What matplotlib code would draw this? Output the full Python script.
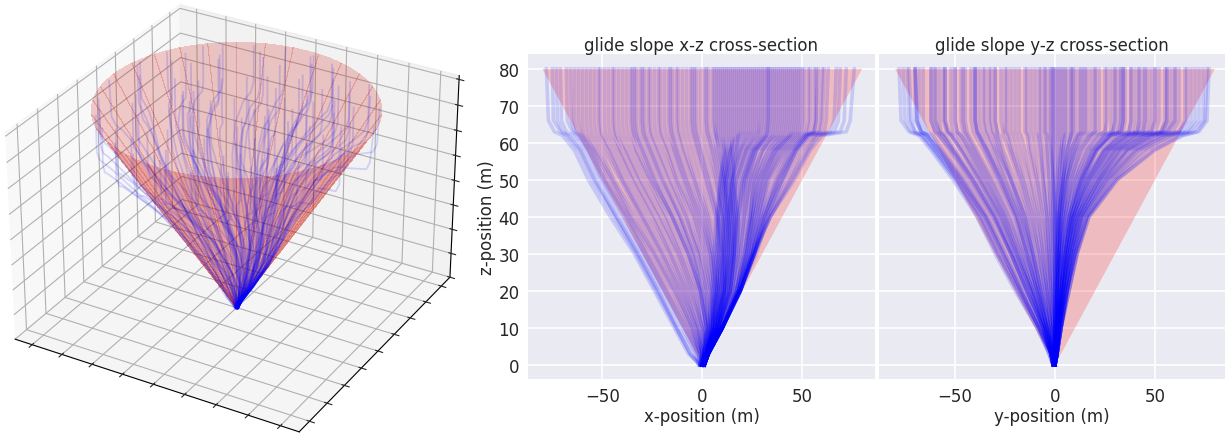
import matplotlib
matplotlib.use("Agg")
import matplotlib.pyplot as plt
import numpy as np

z_levels = [80, 66, 63, 62, 58, 50, 40, 30, 20, 10, 3, 0]
cone_top_radius = 80
cone_height = 80

x_paths = [
 [-78,-77,-74,-70,-64,-57,-46,-34,-24,-14,-7,-1],
 [-75,-74.5,-71,-68,-62,-55,-44,-33,-23,-13,-6,-1.5],
 [-71,-70.5,-68,-65,-60,-53,-43,-32,-22,-12,-4,-1],
 [-68,-67.5,-65,-63,-58,-51,-41,-30,-20,-10,-3,-2],
 [-66,-65.5,-64,-62,-57,-50,-39,-29,-19,-9,-2,-1],
 [-62,-62,-61,-60,-55,-48,-37,-27,-17,-7,-1,0],
 [-60,-60,-59.5,-59,-54,-46,-36,-25,-15,-6,-1,-1],
 [-56,-56,-55.5,-55,-51,-44,-33,-23,-13,-5,-1,0],
 [-54,-54,-53.5,-53,-49,-41,-31,-21,-12,-4,0,-1],
 [-51,-51,-50.5,-50,-46,-39,-29,-19,-10,-3,0,0],
 [-47,-47,-46.5,-46,-42,-35,-25,-16,-8,-2,0,-1],
 [-45,-45,-44.5,-44,-41,-34,-24,-15,-7,-1,0,0],
 [-42,-42,-41.5,-41,-38,-31,-21,-12,-5,0,1,0],
 [-38,-38,-37.5,-37,-34,-27,-18,-10,-3,1,1,-1],
 [-36,-36,-35.5,-35,-33,-26,-16,-8,-2,1,1,0],
 [-33,-33,-32.5,-32,-29,-23,-14,-6,-1,2,1,0],
 [-29,-29,-28.5,-28,-25,-19,-11,-4,1,3,1,0],
 [-27,-27,-26.5,-26,-23,-17,-9,-2,2,3,1,1],
 [-24,-24,-23.5,-23,-20,-14,-7,-1,3,4,2,0],
 [-21,-21,-20.5,-20,-17,-12,-4,1,4,4,2,0],
 [-17,-17,-16.5,-16,-14,-9,-2,3,5,5,2,1],
 [-15,-15,-14.5,-14,-12,-7,0,4,6,5,2,0],
 [-12,-12,-11.5,-11,-9,-4,2,5,7,6,2,0],
 [-8,-8,-7.5,-7,-5,-1,4,7,8,6,2,1],
 [-6,-6,-5.5,-5,-3,1,6,8,9,7,2,0],
 [-3,-3,-2.5,-2,0,4,8,10,10,7,2,0],
 [1,1,1.5,2,4,7,10,11,11,7,2,1],
 [3,3,3.5,4,6,9,12,13,12,8,2,0],
 [6,6,6.5,7,8,11,14,15,13,8,2,0],
 [9,9,9,9,11,13,16,16,14,8,3,1],
 [13,13,13,13,14,15,18,18,15,8,3,0],
 [15,15,15,15,15,16,17,16,14,8,3,1],
 [18,18,18,18,17,15,14,13,11,7,3,0],
 [22,22,22,21,18,14,12,11,9,6,2,1],
 [24,24,24,23,19,15,13,12,10,6,2,0],
 [27,27,27,26,22,17,15,14,11,6,2,1],
 [31,31,30.5,30,25,20,17,15,12,7,2,0],
 [33,33,32.5,32,27,22,19,17,14,8,3,1],
 [36,36,35.5,35,30,24,21,19,16,9,3,0],
 [40,40,39.5,39,33,26,24,21,17,9,3,1],
 [42,42,41.5,41,35,28,25,22,17,10,3,0],
 [45,45,44.5,44,37,30,26,23,18,10,3,1],
 [49,49,48.5,47,40,32,28,24,18,10,3,1],
 [51,51,50.5,49,42,34,29,25,18,10,3,0],
 [54,54,53,51,44,37,30,25,19,10,3,1],
 [58,57,56,52,46,39,31,26,19,10,3,1],
 [60,59,58,53,47,40,32,26,19,10,3,0],
 [63,62,61,54,48,41,33,27,19,10,3,1],
 [67,66,64,56,50,43,33,26,19,10,3,1],
 [69,68,66,57,52,44,34,26,19,10,3,1],
 [72,71,69,58,53,45,34,26,19,10,3,1],
 [76,74,72,60,54,46,34,25,19,10,3,1],
 [-73,-72.5,-70,-67,-61,-54,-43,-32,-22,-13,-6,-1],
 [-64,-64,-63,-61,-56,-49,-38,-28,-18,-8,-2,-1],
 [-58,-58,-57.5,-57,-53,-45,-35,-24,-14,-5,-1,0],
 [-52,-52,-51.5,-51,-47,-40,-30,-20,-11,-3,0,-1],
 [-49,-49,-48.5,-48,-44,-37,-27,-17,-9,-2,0,0],
 [-44,-44,-43.5,-43,-39,-32,-22,-13,-6,0,0,-1],
 [-40,-40,-39.5,-39,-36,-29,-19,-11,-4,0,1,0],
 [-34,-34,-33.5,-33,-30,-24,-15,-7,-1,2,1,0],
 [-31,-31,-30.5,-30,-27,-21,-12,-5,0,2,1,1],
 [-26,-26,-25.5,-25,-22,-16,-8,-2,2,3,1,0],
 [-22,-22,-21.5,-21,-18,-13,-5,0,4,4,2,0],
 [-19,-19,-18.5,-18,-15,-10,-3,2,5,5,2,1],
 [-13,-13,-12.5,-12,-10,-5,1,5,7,5,2,0],
 [-10,-10,-9.5,-9,-7,-3,3,6,8,6,2,0],
 [-4,-4,-3.5,-3,-1,3,8,10,10,7,2,1],
 [-1,-1,-0.5,0,2,6,10,11,11,7,2,0],
 [2,2,2.5,3,5,8,11,12,11,8,3,1],
 [5,5,5.5,6,7,10,13,14,12,8,3,0],
 [8,8,8,8,10,12,15,15,13,8,3,1],
 [11,11,11,11,12,14,16,16,14,8,3,0],
 [12,12,12,12,12,9,7,6,5,3,1,0],
 [14,14,14,14,13,10,8,7,6,4,2,1],
 [16,16,16,16,14,11,9,8,7,4,2,0],
 [17,17,17,17,14,11,10,9,7,5,2,1],
 [20,20,20,19,16,12,11,10,8,5,2,1],
 [21,21,21,20,17,13,12,11,9,6,2,0],
 [23,23,23,22,19,15,13,12,10,6,2,1],
 [25,25,25,24,20,16,14,13,11,7,3,1],
 [26,26,26,25,21,17,15,14,12,7,3,0],
 [28,28,28,27,22,18,16,15,13,8,3,1],
 [29,29,28.5,28,23,19,17,16,14,8,3,1],
 [30,30,29.5,29,24,20,18,17,15,9,3,1],
 [32,32,31.5,31,25,21,20,18,15,9,3,1],
 [34,34,33.5,33,26,22,21,19,16,9,3,0],
 [35,35,34.5,34,27,23,22,20,17,10,3,1],
 [37,37,36.5,36,28,24,23,21,17,10,3,1],
 [38,38,37.5,37,30,25,24,21,17,10,3,1],
 [39,39,38.5,38,31,26,24,22,18,10,3,1],
 [41,41,40.5,40,33,27,25,22,18,10,3,1],
 [43,43,42.5,42,35,28,25,23,18,10,3,1],
 [44,44,43.5,43,36,29,26,24,18,10,3,0],
 [47,47,46.5,45,38,31,27,24,19,10,3,1],
 [48,48,47.5,46,39,32,28,25,19,10,3,1],
 [50,50,49.5,48,41,33,29,25,19,10,3,1],
 [53,53,52,50,43,36,30,25,19,10,3,1],
 [56,56,55,51,45,38,31,26,19,10,3,1],
 [57,57,56,52,46,38,31,26,19,10,3,1],
 [61,60,59,53,47,40,32,26,19,10,3,1],
 [-35,-35,-34.5,-34,-31,-25,-15,-7,-1,2,1,0],
 [-16,-16,-15.5,-15,-13,-8,-1,4,6,5,2,0],
 [10,10,10,10,11,9,8,8,7,5,2,0],
 [19,19,19,18,15,12,11,10,8,5,2,1],
 [46,46,45.5,44,37,30,27,23,18,10,3,1],
 [-5,-5,-4.5,-4,-2,2,7,9,9,6,2,0],
 [7,7,7,7,9,11,13,13,11,7,2,1],
 [-30,-30,-29.5,-29,-26,-20,-11,-4,0,3,1,0],
 [33,33,32.5,32,26,21,18,16,13,8,3,1],
]

y_paths = [
 [-8,-8,-8,-8,-7,-6,-4,-3,-2,-1,0,0],
 [20,20,20,18,13,8,5,3,2,1,0,0],
 [-30,-30,-29,-29,-27,-22,-15,-11,-7,-3,-1,0],
 [38,38,37,31,24,15,9,6,4,2,0,0],
 [5,5,5,5,4,3,2,2,1,1,0,0],
 [-47,-47,-46,-45,-41,-33,-24,-17,-11,-5,-1,-1],
 [30,30,29,25,19,12,7,5,3,1,0,0],
 [-15,-15,-15,-14,-13,-10,-7,-5,-3,-1,0,0],
 [55,55,53,44,32,22,12,8,5,2,1,0],
 [-58,-58,-57,-55,-50,-40,-29,-21,-13,-6,-2,-1],
 [12,12,12,11,8,5,3,2,1,1,0,0],
 [62,62,59,50,37,25,14,9,6,3,1,0],
 [-35,-35,-34,-33,-30,-24,-17,-12,-8,-4,-1,0],
 [45,45,44,37,27,18,10,7,4,2,1,0],
 [-68,-68,-66,-63,-57,-46,-34,-25,-16,-7,-2,-1],
 [-3,-3,-3,-3,-2,-1,-1,0,0,0,0,0],
 [70,70,66,56,42,28,16,10,6,3,1,0],
 [-50,-50,-49,-47,-43,-35,-25,-18,-11,-5,-2,-1],
 [25,25,25,21,16,10,6,4,3,1,0,0],
 [-74,-73,-70,-66,-60,-49,-37,-28,-18,-8,-3,-1],
 [60,60,57,48,36,24,13,9,6,3,1,0],
 [-22,-22,-22,-21,-19,-15,-10,-7,-4,-2,-1,0],
 [77,76,72,64,50,31,17,11,7,3,1,0],
 [-62,-62,-60,-58,-53,-43,-31,-22,-14,-6,-2,-1],
 [8,8,8,8,6,4,2,1,1,0,0,0],
 [40,40,39,33,25,16,9,6,4,2,0,0],
 [-78,-77,-73,-68,-62,-51,-39,-30,-20,-9,-3,-1],
 [-40,-40,-39,-38,-34,-27,-19,-14,-9,-4,-1,0],
 [74,74,69,60,46,30,16,11,7,3,1,0],
 [-10,-10,-10,-9,-8,-6,-4,-3,-2,-1,0,0],
 [52,52,50,42,31,21,11,8,5,2,1,0],
 [-70,-69,-67,-64,-58,-47,-35,-26,-17,-8,-2,-1],
 [22,22,22,19,14,9,5,3,2,1,0,0],
 [-52,-52,-51,-49,-44,-36,-26,-19,-12,-5,-2,-1],
 [68,68,64,55,41,27,15,10,6,3,1,0],
 [-27,-27,-26,-26,-23,-18,-13,-9,-6,-3,-1,0],
 [42,42,41,35,26,17,9,6,4,2,1,0],
 [-66,-66,-64,-61,-56,-45,-33,-24,-15,-7,-2,-1],
 [3,3,3,3,3,2,1,1,1,0,0,0],
 [58,58,55,47,35,23,13,9,5,3,1,0],
 [-45,-45,-44,-43,-39,-31,-22,-16,-10,-5,-1,0],
 [28,28,28,24,18,11,7,4,3,1,0,0],
 [-60,-60,-58,-56,-51,-41,-30,-22,-14,-6,-2,-1],
 [60,60,56,49,36,24,13,8,5,2,1,0],
 [-18,-18,-18,-17,-15,-12,-8,-6,-4,-2,0,0],
 [48,48,46,39,29,19,11,7,4,2,1,0],
 [-38,-38,-37,-36,-33,-26,-18,-13,-8,-4,-1,0],
 [15,15,15,13,10,6,4,2,2,1,0,0],
 [-32,-32,-31,-30,-28,-22,-15,-11,-7,-3,-1,0],
 [38,38,37,32,24,15,9,6,4,2,0,0],
 [-12,-12,-12,-11,-10,-8,-5,-4,-2,-1,0,0],
 [18,18,18,16,11,7,4,3,2,1,0,0],
 [14,14,14,12,9,6,3,2,2,1,0,0],
 [-40,-40,-39,-38,-35,-28,-20,-14,-9,-4,-1,0],
 [42,42,41,34,25,16,9,6,4,2,1,0],
 [-25,-25,-25,-24,-22,-17,-12,-8,-5,-2,-1,0],
 [33,33,32,27,21,13,8,5,3,1,0,0],
 [-55,-55,-54,-52,-47,-38,-27,-20,-12,-6,-2,-1],
 [50,50,48,40,30,20,11,7,5,2,1,0],
 [16,16,16,14,10,6,4,3,2,1,0,0],
 [-60,-60,-58,-56,-51,-41,-30,-22,-14,-6,-2,-1],
 [-7,-7,-7,-7,-6,-5,-3,-2,-1,-1,0,0],
 [65,65,62,52,39,26,14,10,6,3,1,0],
 [-42,-42,-41,-40,-36,-29,-20,-15,-9,-4,-1,0],
 [34,34,33,28,21,14,8,5,3,2,0,0],
 [-70,-69,-67,-64,-58,-47,-35,-26,-17,-8,-2,-1],
 [56,56,54,45,33,22,12,8,5,2,1,0],
 [-30,-30,-29,-28,-26,-20,-14,-10,-6,-3,-1,0],
 [10,10,10,9,7,4,3,2,1,1,0,0],
 [-55,-55,-53,-51,-46,-37,-27,-19,-12,-5,-2,-1],
 [30,30,29,25,18,12,7,4,3,1,0,0],
 [66,66,62,53,40,26,14,9,6,3,1,0],
 [-20,-20,-20,-19,-17,-13,-9,-6,-4,-2,0,0],
 [46,46,44,37,28,18,10,7,4,2,1,0],
 [-76,-75,-72,-67,-61,-50,-38,-29,-19,-9,-3,-1],
 [6,6,6,5,4,3,2,1,1,0,0,0],
 [-36,-36,-35,-34,-31,-25,-17,-12,-8,-4,-1,0],
 [72,72,67,58,44,29,16,10,6,3,1,0],
 [-5,-5,-5,-5,-4,-3,-2,-2,-1,0,0,0],
 [35,35,34,29,21,14,8,5,3,2,0,0],
 [-62,-62,-60,-58,-52,-42,-31,-22,-14,-6,-2,-1],
 [13,13,13,11,8,5,3,2,1,1,0,0],
 [-46,-46,-45,-44,-40,-32,-23,-16,-10,-5,-1,0],
 [56,56,53,45,33,22,12,8,5,2,1,0],
 [-14,-14,-14,-13,-12,-9,-6,-4,-3,-1,0,0],
 [26,26,25,22,16,10,6,4,3,1,0,0],
 [-70,-70,-67,-64,-59,-48,-35,-26,-17,-8,-2,-1],
 [50,50,48,41,30,20,11,7,4,2,1,0],
 [-33,-33,-32,-31,-29,-22,-16,-11,-7,-3,-1,0],
 [9,9,9,8,6,4,2,2,1,1,0,0],
 [-56,-56,-54,-52,-47,-38,-28,-20,-12,-6,-2,-1],
 [34,34,33,28,20,13,8,5,3,2,0,0],
 [-24,-24,-24,-23,-21,-16,-11,-8,-5,-2,-1,0],
 [44,44,42,36,27,17,10,6,4,2,1,0],
 [-40,-40,-39,-38,-34,-27,-19,-14,-9,-4,-1,0],
 [20,20,20,17,12,8,5,3,2,1,0,0],
 [-50,-50,-49,-47,-42,-34,-25,-18,-11,-5,-2,-1],
 [32,32,31,27,20,13,7,5,3,1,0,0],
 [-5,-5,-5,-4,-4,-3,-2,-1,-1,0,0,0],
 [8,8,8,7,5,4,2,1,1,0,0,0],
 [1,1,1,1,1,1,0,0,0,0,0,0],
 [-1,-1,-1,-1,-1,-1,0,0,0,0,0,0],
 [2,2,2,2,2,1,1,1,0,0,0,0],
 [-2,-2,-2,-2,-2,-1,-1,-1,0,0,0,0],
 [0,0,0,0,0,0,0,0,0,0,0,0],
 [-73,-72,-70,-66,-60,-49,-37,-28,-18,-8,-2,-1],
 [76,75,71,63,49,31,17,11,7,3,1,0],
 [4,4,4,4,3,2,1,1,1,0,0,0],
 [-1,-1,-1,-1,-1,-1,0,0,0,0,0,0],
]

tick_color = ".15"
face = "#EAEAF2"
plt.rcParams.update({"font.family": "DejaVu Sans", "text.color": tick_color,
                     "axes.labelcolor": tick_color, "xtick.color": tick_color,
                     "ytick.color": tick_color})

fig = plt.figure(figsize=(12.25, 4.35), dpi=100)

# 3-D panel
ax3 = fig.add_axes([-0.0249, -0.0719, 0.425, 1.153], projection="3d", computed_zorder=False)
ax3.set_box_aspect((4, 4, 2.9), zoom=1.0)
theta = np.radians(np.arange(0, 361, 6))
rr = np.array([0, cone_top_radius])
X = np.outer(rr, np.cos(theta))
Y = np.outer(rr, np.sin(theta))
Z = np.outer(rr / cone_top_radius * cone_height, np.ones_like(theta))
ax3.plot_surface(X, Y, Z, color=(0.78, 0.03, 0.0), alpha=0.2, shade=False,
                 linewidth=0, antialiased=False, zorder=1)
for xs, ys in zip(x_paths, y_paths):
    ax3.plot(xs, ys, z_levels, color="blue", alpha=0.14, lw=1.3, zorder=3)
ax3.set_xlim(-91.5, 91.5)
ax3.set_ylim(-91.5, 91.5)
ax3.set_zlim(0, 81.5)
ax3.set_xticks(np.arange(-80, 81, 20))
ax3.set_yticks(np.arange(-80, 81, 20))
ax3.set_zticks(np.arange(0, 81, 10))
ax3.set_xticklabels([])
ax3.set_yticklabels([])
ax3.set_zticklabels([])

# 2-D panels
W, H = 1225, 435
bounds = [(528, 875), (879.5, 1225)]
xlims = [(-87.2, 86.4), (-87.8, 85)]
cols = [x_paths, y_paths]
names = ["x", "y"]
for i in range(2):
    l, r = bounds[i]
    ax = fig.add_axes([l / W, (H - 380) / H, (r - l) / W, 325 / H])
    ax.set_facecolor(face)
    ax.grid(True, color="white", lw=1.2)
    ax.set_axisbelow(True)
    for s in ax.spines.values():
        s.set_visible(False)
    ax.fill([-cone_top_radius, cone_top_radius, 0], [cone_height, cone_height, 0],
            color="red", alpha=0.2, lw=0)
    for p in cols[i]:
        ax.plot(p, z_levels, color="blue", alpha=0.15, lw=2.6, solid_joinstyle="round")
    ax.set_xlim(*xlims[i])
    ax.set_ylim(-3.8, 84)
    ax.set_xticks([-50, 0, 50])
    ax.set_yticks(range(0, 81, 10))
    ax.tick_params(length=0, labelsize=12, pad=6)
    ax.set_xlabel(f"{names[i]}-position (m)", fontsize=12, labelpad=1)
    ax.set_title(f"glide slope {names[i]}-z cross-section", fontsize=12, pad=3)
    if i == 0:
        ax.set_ylabel("z-position (m)", fontsize=12, labelpad=2)
    else:
        ax.tick_params(labelleft=False)

fig.savefig("out.png", dpi=100)
